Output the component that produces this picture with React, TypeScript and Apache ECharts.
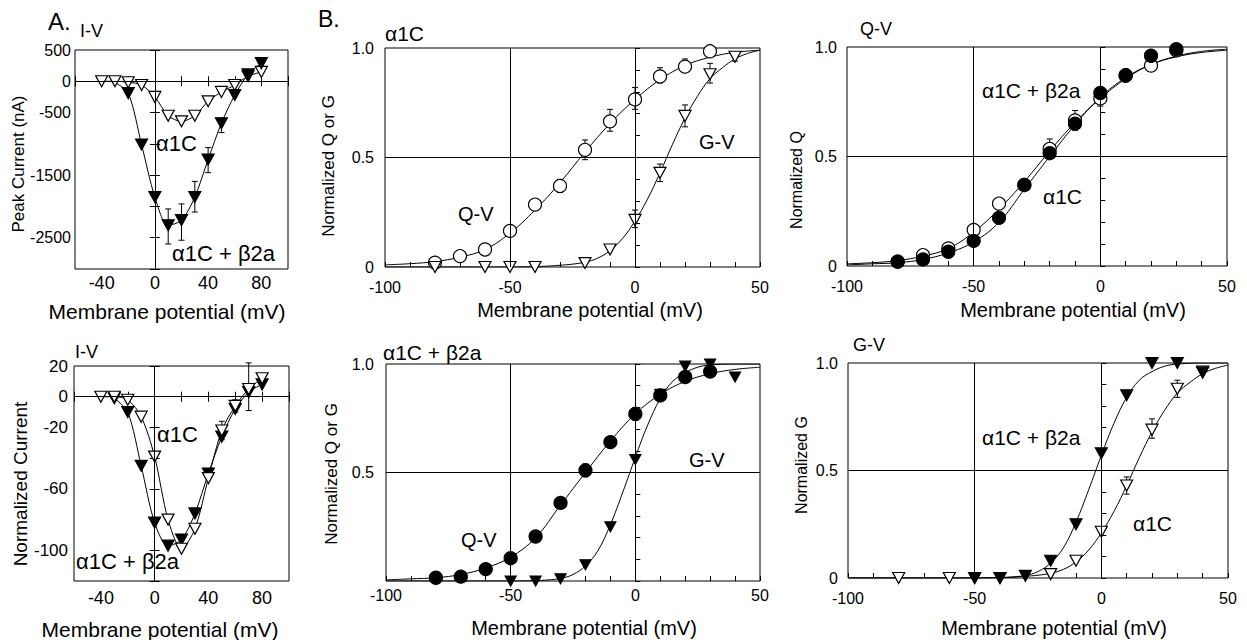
import React, { useEffect, useRef } from "react";
import * as echarts from "echarts";

const FONT = "'Liberation Sans', Arial, Helvetica, sans-serif";

// ---------- Panel A (top): peak current, nA ----------
const aTopAlphaV = [-40, -30, -20, -10, 0, 10, 20, 30, 40, 50, 60, 70, 80];
const aTopAlpha = [0, 0, -15, -60, -250, -550, -640, -550, -320, -170, -60, 80, 150];
const aTopBetaV = [-20, -10, 0, 10, 20, 30, 40, 50, 60, 70, 80];
const aTopBeta = [-190, -1010, -1850, -2300, -2220, -1850, -1250, -670, -220, 110, 290];
const aTopBetaLineV = [-30, -20, -10, 0, 10, 20, 30, 40, 50, 60, 70, 80];
const aTopBetaLine = [-20, -190, -1010, -1850, -2300, -2220, -1850, -1250, -670, -220, 110, 290];
const aTopBetaErr = [[10, -2600, -2040], [20, -2540, -1960], [30, -2090, -1600], [40, -1460, -1060], [50, -820, -590]];
const aTopYLabels = [500, 0, -500, -1500, -2500];
const aXLabels = [-40, 0, 40, 80];

// ---------- Panel A (bottom): normalized current ----------
const aBotAlphaV = [-40, -30, -20, -10, 0, 10, 20, 30, 40, 50, 60, 70, 80];
const aBotAlpha = [0, 0, -2, -13, -39, -80, -99, -86, -53, -22, -6, 5, 12];
const aBotBetaV = [-30, -20, -10, 0, 10, 20, 30, 40, 50, 60, 70, 80];
const aBotBeta = [-1, -10, -45, -82, -97, -93, -76, -50, -26, -8, 3, 8];
const aBotErr = [[70, -9, 22], [50, -28, -16], [60, -10, -2]];
const aBotYLabels = [20, 0, -20, -60, -100];

// ---------- Panels B ----------
const qvV = [-80, -70, -60, -50, -40, -30, -20, -10, 0, 10, 20, 30];
const qvAlpha = [0.02, 0.05, 0.08, 0.165, 0.285, 0.37, 0.535, 0.665, 0.765, 0.87, 0.915, 0.985];
const qvBetaTR = [0.02, 0.03, 0.065, 0.115, 0.22, 0.37, 0.515, 0.65, 0.79, 0.87, 0.96, 0.99];
const qvBetaBL = [0.015, 0.02, 0.055, 0.105, 0.205, 0.36, 0.51, 0.64, 0.77, 0.855, 0.94, 0.965];

const gvAlphaV = [-80, -60, -50, -40, -20, -10, 0, 10, 20, 30, 40];
const gvAlpha = [0, 0, 0, 0, 0.018, 0.08, 0.215, 0.43, 0.69, 0.88, 0.96];
const gvBetaBLV = [-50, -40, -30, -20, -10, 0, 10, 20, 30, 40];
const gvBetaBL = [0, 0, 0.01, 0.075, 0.25, 0.56, 0.86, 0.99, 1.0, 0.94];
const gvBetaBRV = [-50, -40, -30, -20, -10, 0, 10, 20, 30, 40];
const gvBetaBR = [0, 0, 0.01, 0.08, 0.25, 0.58, 0.85, 1.0, 1.0, 0.955];

// fitted curves
const fitV10 = [-100, -90, -80, -70, -60, -50, -40, -30, -20, -10, 0, 10, 20, 30, 40, 50];
const qvAlphaFit = [0.01, 0.015, 0.025, 0.045, 0.08, 0.155, 0.26, 0.385, 0.525, 0.655, 0.765, 0.855, 0.92, 0.958, 0.98, 0.99];
const qvBetaFit = [0.005, 0.01, 0.015, 0.03, 0.06, 0.11, 0.2, 0.35, 0.5, 0.645, 0.77, 0.86, 0.92, 0.955, 0.975, 0.985];
const gvAlphaFitV = [-100, -50, -40, -35, -30, -25, -20, -15, -10, -5, 0, 5, 10, 15, 20, 25, 30, 35, 40, 45, 50];
const gvAlphaFit = [0, 0, 0.002, 0.004, 0.008, 0.013, 0.022, 0.04, 0.075, 0.13, 0.21, 0.31, 0.43, 0.56, 0.68, 0.78, 0.86, 0.91, 0.95, 0.975, 0.99];
const gvBetaFitV = [-100, -50, -40, -35, -30, -25, -20, -15, -10, -5, 0, 5, 10, 15, 20, 25, 30, 40, 50];
const gvBetaFit = [0, 0, 0.002, 0.005, 0.012, 0.03, 0.07, 0.14, 0.26, 0.41, 0.57, 0.72, 0.84, 0.92, 0.96, 0.985, 0.995, 1.0, 1.0];

const errTLq = [[-30, 0.34, 0.4], [-20, 0.49, 0.58], [-10, 0.62, 0.72], [0, 0.72, 0.82], [10, 0.84, 0.91], [20, 0.89, 0.95]];
const errTLg = [[0, 0.18, 0.26], [10, 0.39, 0.47], [20, 0.64, 0.74], [30, 0.84, 0.93], [40, 0.94, 0.98]];
const errTR = [[-20, 0.5, 0.58], [-10, 0.62, 0.71], [0, 0.73, 0.8], [10, 0.84, 0.9]];
const errBL = [[0, 0.74, 0.8], [-20, 0.48, 0.54]];
const errBR = [[10, 0.39, 0.47], [20, 0.65, 0.74], [30, 0.84, 0.92]];

const bXLabels = [-100, -50, 0, 50];
const bYLabels = [0, 0.5, 1];
const bYLabelsNoZero = [0.5, 1];

const zip = (xs: number[], ys: number[]) => xs.map((x, i) => [x, ys[i]]);
const has = (arr: number[], v: number) => arr.some((s) => Math.abs(s - v) < 1e-6);
const fmtB = (v: number) => (Math.abs(v - 1) < 1e-6 ? "1.0" : Math.abs(v - 0.5) < 1e-6 ? "0.5" : "0");

function axis(gridIndex: number, min: number, max: number, interval: number, labels: number[] | null, position: string, margin: number, fontSize: number, fmt?: (v: number) => string) {
  return {
    type: "value",
    gridIndex,
    min,
    max,
    interval,
    position,
    axisLine: { show: false },
    axisTick: { show: true, inside: true, length: 5, lineStyle: { color: "#000", width: 1 } },
    splitLine: { show: false },
    axisLabel: labels
      ? {
          show: true,
          margin,
          color: "#000",
          fontSize,
          fontFamily: FONT,
          formatter: (v: number) => (has(labels, v) ? (fmt ? fmt(v) : String(Math.round(v))) : ""),
        }
      : { show: false },
  };
}

function lineS(xi: number, yi: number, data: number[][], smooth: number, mark?: any[]) {
  const s: any = {
    type: "line",
    xAxisIndex: xi,
    yAxisIndex: yi,
    data,
    smooth,
    symbol: "none",
    silent: true,
    lineStyle: { color: "#000", width: 1 },
    z: 2,
  };
  if (mark) {
    s.markLine = {
      silent: true,
      symbol: ["none", "none"],
      label: { show: false },
      lineStyle: { color: "#000", type: "solid", width: 1 },
      data: mark,
    };
  }
  return s;
}

function pts(xi: number, yi: number, data: number[][], kind: "circle" | "tri", filled: boolean, size?: any) {
  return {
    type: "scatter",
    xAxisIndex: xi,
    yAxisIndex: yi,
    data,
    symbol: kind === "circle" ? "circle" : "triangle",
    symbolSize: size ?? (kind === "circle" ? 13 : [12, 11]),
    symbolRotate: kind === "tri" ? 180 : 0,
    itemStyle: { color: filled ? "#000" : "#fff", borderColor: "#000", borderWidth: 1.2, opacity: 1 },
    silent: true,
    z: 4,
  };
}

function errS(xi: number, yi: number, data: number[][]) {
  return {
    type: "custom",
    xAxisIndex: xi,
    yAxisIndex: yi,
    data,
    encode: { x: 0, y: [1, 2] },
    silent: true,
    z: 3,
    renderItem: (_p: any, api: any) => {
      const x = api.value(0);
      const a = api.coord([x, api.value(2)]);
      const b = api.coord([x, api.value(1)]);
      const c = 3;
      const st = { stroke: "#000", lineWidth: 1 };
      return {
        type: "group",
        children: [
          { type: "line", shape: { x1: a[0], y1: a[1], x2: b[0], y2: b[1] }, style: st },
          { type: "line", shape: { x1: a[0] - c, y1: a[1], x2: a[0] + c, y2: a[1] }, style: st },
          { type: "line", shape: { x1: b[0] - c, y1: b[1], x2: b[0] + c, y2: b[1] }, style: st },
        ],
      };
    },
  };
}

function txt(text: string, x: number, y: number, size: number, align = "left", rot = 0) {
  return {
    type: "text",
    x,
    y,
    rotation: rot,
    silent: true,
    style: { text, fill: "#000", font: `${size}px ${FONT}`, align, verticalAlign: "middle" },
  };
}

const gridStyle = { show: true, borderColor: "#000", borderWidth: 1, backgroundColor: "transparent" };

export default function App() {
  const ref = useRef<HTMLDivElement>(null);
  useEffect(() => {
    if (!ref.current) return;
    const chart = echarts.init(ref.current, undefined, { renderer: "svg" });
    const B = Math.PI / 2;
    const option: any = {
      animation: false,
      backgroundColor: "#fff",
      grid: [
        { left: 75, top: 50, width: 213, height: 219, ...gridStyle },
        { left: 74, top: 366, width: 215, height: 215, ...gridStyle },
        { left: 385, top: 48, width: 375, height: 219, ...gridStyle },
        { left: 847, top: 47, width: 380, height: 219, ...gridStyle },
        { left: 386, top: 364, width: 374, height: 217, ...gridStyle },
        { left: 848, top: 363, width: 380, height: 215, ...gridStyle },
      ],
      xAxis: [
        axis(0, -60, 100, 20, aXLabels, "bottom", 5, 18),
        axis(0, -60, 100, 20, null, "top", 5, 18),
        axis(1, -60, 100, 20, aXLabels, "bottom", 8, 18),
        axis(1, -60, 100, 20, null, "top", 5, 18),
        axis(2, -100, 50, 10, bXLabels, "bottom", 12, 16),
        axis(3, -100, 50, 10, bXLabels, "bottom", 12, 16),
        axis(4, -100, 50, 10, bXLabels, "bottom", 6, 16),
        axis(5, -100, 50, 10, bXLabels, "bottom", 12, 16),
      ],
      yAxis: [
        axis(0, -3000, 500, 500, aTopYLabels, "left", 4, 16),
        axis(0, -3000, 500, 500, null, "right", 5, 16),
        axis(1, -120, 20, 20, aBotYLabels, "left", 6, 17),
        axis(1, -120, 20, 20, null, "right", 5, 17),
        axis(2, 0, 1, 0.1, bYLabels, "left", 11, 16, fmtB),
        axis(3, 0, 1, 0.1, bYLabels, "left", 10, 16, fmtB),
        axis(4, 0, 1, 0.1, bYLabelsNoZero, "left", 12, 16, fmtB),
        axis(5, 0, 1, 0.1, bYLabels, "left", 10, 16, fmtB),
      ],
      series: [
        // A top
        lineS(0, 0, zip(aTopAlphaV, aTopAlpha), 0.3, [{ xAxis: 0 }, { yAxis: 0 }]),
        lineS(0, 0, zip(aTopBetaLineV, aTopBetaLine), 0.3),
        errS(0, 0, aTopBetaErr),
        pts(0, 0, zip(aTopAlphaV, aTopAlpha), "tri", false),
        pts(0, 0, zip(aTopBetaV, aTopBeta), "tri", true),
        // A bottom
        lineS(2, 2, zip(aBotAlphaV, aBotAlpha), 0.3, [{ xAxis: 0 }, { yAxis: 0 }]),
        lineS(2, 2, zip(aBotBetaV, aBotBeta), 0.3),
        errS(2, 2, aBotErr),
        pts(2, 2, zip(aBotBetaV, aBotBeta), "tri", true),
        pts(2, 2, zip(aBotAlphaV, aBotAlpha), "tri", false),
        // B top-left
        lineS(4, 4, zip(fitV10, qvAlphaFit), 0.4, [{ xAxis: -50 }, { xAxis: 0 }, { yAxis: 0.5 }]),
        lineS(4, 4, zip(gvAlphaFitV, gvAlphaFit), 0.4),
        errS(4, 4, errTLq),
        errS(4, 4, errTLg),
        pts(4, 4, zip(qvV, qvAlpha), "circle", false),
        pts(4, 4, zip(gvAlphaV, gvAlpha), "tri", false),
        // B top-right
        lineS(5, 5, zip(fitV10, qvAlphaFit), 0.4, [{ xAxis: -50 }, { xAxis: 0 }, { yAxis: 0.5 }]),
        lineS(5, 5, zip(fitV10, qvBetaFit), 0.4),
        errS(5, 5, errTR),
        pts(5, 5, zip(qvV, qvAlpha), "circle", false),
        pts(5, 5, zip(qvV, qvBetaTR), "circle", true),
        // B bottom-left
        lineS(6, 6, zip(fitV10, qvBetaFit), 0.4, [{ xAxis: -50 }, { xAxis: 0 }, { yAxis: 0.5 }]),
        lineS(6, 6, zip(gvBetaFitV, gvBetaFit), 0.4),
        errS(6, 6, errBL),
        pts(6, 6, zip(gvBetaBLV, gvBetaBL), "tri", true, [11, 10]),
        pts(6, 6, zip(qvV, qvBetaBL), "circle", true),
        // B bottom-right
        lineS(7, 7, zip(gvAlphaFitV, gvAlphaFit), 0.4, [{ xAxis: -50 }, { xAxis: 0 }, { yAxis: 0.5 }]),
        lineS(7, 7, zip(gvBetaFitV, gvBetaFit), 0.4),
        errS(7, 7, errBR),
        pts(7, 7, zip(gvAlphaV, gvAlpha), "tri", false),
        pts(7, 7, zip(gvBetaBRV, gvBetaBR), "tri", true),
      ],
      graphic: [
        txt("A.", 48, 21, 24),
        txt("I-V", 80, 31, 18),
        txt("Peak Current (nA)", 18, 164, 17, "center", B),
        txt("Membrane potential (mV)", 167, 311, 21, "center"),
        txt("α1C", 156, 143, 22),
        txt("α1C + β2a", 172, 253, 22),
        txt("I-V", 75, 352, 18),
        txt("Normalized Current", 20, 484, 19, "center", B),
        txt("α1C", 157, 434, 22),
        txt("α1C + β2a", 76, 561, 22),
        txt("Membrane potential (mV)", 160, 629, 21, "center"),
        txt("B.", 318, 19, 23),
        txt("α1C", 385, 33, 21),
        txt("Normalized Q or G", 328, 166, 17, "center", B),
        txt("Q-V", 458, 214, 20),
        txt("G-V", 699, 142, 20),
        txt("Membrane potential (mV)", 590, 310, 20, "center"),
        txt("Q-V", 860, 29, 18),
        txt("Normalized Q", 796, 180, 16, "center", B),
        txt("α1C + β2a", 982, 90, 21),
        txt("α1C", 1043, 196, 21),
        txt("Membrane potential (mV)", 1073, 310, 20, "center"),
        txt("α1C + β2a", 383, 352, 21),
        txt("Normalized Q or G", 331, 474, 17, "center", B),
        txt("Q-V", 461, 540, 20),
        txt("G-V", 689, 460, 20),
        txt("Membrane potential (mV)", 584, 628, 20, "center"),
        txt("G-V", 853, 345, 18),
        txt("Normalized G", 801, 465, 16, "center", B),
        txt("α1C + β2a", 982, 437, 21),
        txt("α1C", 1133, 523, 21),
        txt("Membrane potential (mV)", 1054, 628, 20, "center"),
      ],
    };
    chart.setOption(option);
    return () => chart.dispose();
  }, []);
  return (
    <div
      ref={ref}
      style={{ position: "fixed", left: 0, top: 0, width: 1247, height: 640, background: "#fff" }}
    />
  );
}
